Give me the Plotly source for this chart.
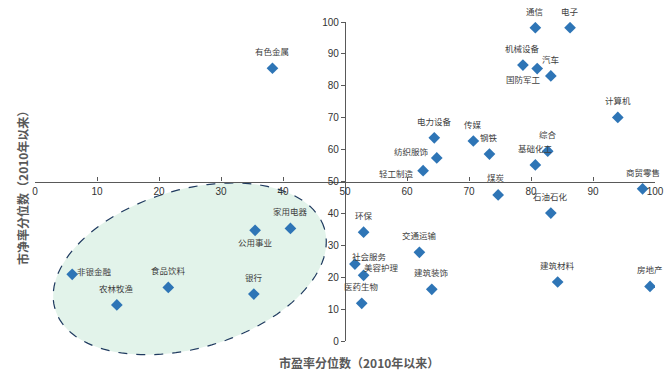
import numpy as np
import plotly.graph_objects as go

# ---- data ----
sectors = ["有色金属", "通信", "电子", "机械设备", "汽车", "国防军工", "计算机",
           "电力设备", "传媒", "钢铁", "纺织服饰", "轻工制造", "综合", "基础化工",
           "煤炭", "商贸零售", "石油石化", "环保", "交通运输", "社会服务", "美容护理",
           "医药生物", "建筑装饰", "建筑材料", "房地产", "家用电器", "公用事业",
           "非银金融", "食品饮料", "银行", "农林牧渔"]
pe_pct = [38.3, 80.7, 86.3, 78.7, 81.0, 83.2, 94.0,
          64.4, 70.7, 73.3, 64.8, 62.6, 82.7, 80.7,
          74.7, 98.0, 83.2, 53.0, 62.0, 51.6, 53.0,
          52.7, 64.0, 84.3, 99.2, 41.2, 35.5,
          6.0, 21.5, 35.3, 13.2]
pb_pct = [85.5, 98.2, 98.2, 86.5, 85.4, 83.1, 70.1,
          63.7, 62.7, 58.6, 57.4, 53.4, 59.5, 55.2,
          45.8, 47.7, 40.1, 34.1, 27.8, 24.1, 20.6,
          11.8, 16.2, 18.5, 17.1, 35.3, 34.7,
          20.9, 16.8, 14.7, 11.3]
tick_vals = list(range(0, 101, 10))

# label offsets in pixels (dx, dy) relative to each marker
label_offsets = {
    "汽车": (13, 10), "国防军工": (-27, -3), "纺织服饰": (-25, 7),
    "轻工制造": (-27, -2), "煤炭": (-2, 18), "社会服务": (15, 8),
    "美容护理": (18, 8), "公用事业": (0, -12), "非银金融": (22, 3),
}
default_offset = (0, 17)

# ---- layout geometry (page body adds an 8px margin) ----
BODY = 8
W, H = 672 - BODY, 372 - BODY
ML, MR, MT, MB = 35 - BODY, 16, 16 - BODY, 31
PW, PH = W - ML - MR, H - MT - MB


def paper_x(px):
    return (px - BODY - ML) / PW


def paper_y(py):
    return (BODY + MT + PH - py) / PH


fig = go.Figure()

fig.add_trace(go.Scatter(
    x=pe_pct, y=pb_pct, mode="markers",
    marker=dict(symbol="diamond", size=9, color="#2E75B6"),
    hoverinfo="text", text=sectors, showlegend=False,
))

annotations = []
for name, xv, yv in zip(sectors, pe_pct, pb_pct):
    dx, dy = label_offsets.get(name, default_offset)
    annotations.append(dict(
        x=xv, y=yv, xref="x", yref="y", text=name, showarrow=False,
        xshift=dx, yshift=dy,
        font=dict(family="Noto Sans CJK SC", size=8.5, color="#404040"),
    ))

# axis titles (positions given in page pixels of the reference)
annotations.append(dict(
    x=paper_x(360), y=paper_y(363), xref="paper", yref="paper",
    text="<b>市盈率分位数（2010年以来）</b>", showarrow=False,
    font=dict(family="Noto Sans CJK SC", size=12, color="#595959"),
    xanchor="center", yanchor="middle",
))
annotations.append(dict(
    x=paper_x(23), y=paper_y(182), xref="paper", yref="paper",
    text="<b>市净率分位数（2010年以来）</b>", showarrow=False, textangle=-90,
    font=dict(family="Noto Sans CJK SC", size=12, color="#595959"),
    xanchor="center", yanchor="middle",
))

# ellipse highlighting the low-valuation group (rotated, defined in page pixels,
# drawn in paper coordinates so it may extend below the plot area)
cx_px, cy_px = 190.0, 267.5
a_px, b_px = 141.0, 80.5
theta = np.deg2rad(17.2)
t = np.linspace(0, 2 * np.pi, 120)
ex = a_px * np.cos(t)
ey = b_px * np.sin(t)
pxs = cx_px + ex * np.cos(theta) - ey * np.sin(theta)
pys = cy_px - ex * np.sin(theta) - ey * np.cos(theta)
path = "M " + " L ".join(f"{paper_x(x):.4f},{paper_y(y):.4f}"
                         for x, y in zip(pxs, pys)) + " Z"

fig.add_shape(
    type="path", path=path, xref="paper", yref="paper", layer="below",
    fillcolor="#E2F3EA", line=dict(color="#1F3A5F", width=1.2, dash="dash"),
)

axis_font = dict(family="Liberation Sans, Arial", size=10, color="#333333")
fig.update_layout(
    width=W, height=H,
    margin=dict(l=ML, r=MR, t=MT, b=MB),
    plot_bgcolor="white", paper_bgcolor="white",
    annotations=annotations,
    xaxis=dict(
        range=[0, 100], tickvals=tick_vals, anchor="free", position=0.5,
        showline=True, linecolor="#595959", linewidth=1.2,
        ticks="inside", ticklen=4, tickcolor="#595959",
        showgrid=False, zeroline=False, tickfont=axis_font,
    ),
    yaxis=dict(
        range=[0, 100], tickvals=tick_vals, anchor="free", position=0.5,
        showline=True, linecolor="#595959", linewidth=1.2,
        ticks="outside", ticklen=4, tickcolor="#595959",
        showgrid=False, zeroline=False, tickfont=axis_font,
    ),
)

fig.write_html("out.html")
